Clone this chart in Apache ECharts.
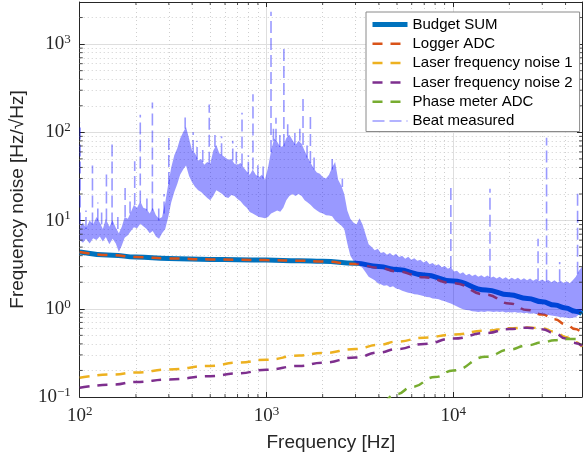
<!DOCTYPE html>
<html>
<head>
<meta charset="utf-8">
<script src="https://cdn.jsdelivr.net/npm/echarts@6/dist/echarts.min.js"></script>
<style>
  html, body { margin: 0; padding: 0; background: #fff; }
  #chart { width: 583px; height: 460px; }
</style>
</head>
<body>
<div id="chart"></div>
<script>
// axis ranges
const X_MIN = 100;
const X_MAX = 49000;
const Y_MIN = 0.1;
const Y_MAX = 3000;

// minor grid / tick positions
const minorX = [200, 300, 400, 500, 600, 700, 800, 900,
  2000, 3000, 4000, 5000, 6000, 7000, 8000, 9000,
  20000, 30000, 40000];
const minorY = [0.2, 0.3, 0.4, 0.5, 0.6, 0.7, 0.8, 0.9,
  2, 3, 4, 5, 6, 7, 8, 9,
  20, 30, 40, 50, 60, 70, 80, 90,
  200, 300, 400, 500, 600, 700, 800, 900, 2000];

// smooth budget curves
const curveFreq = [100, 150, 200, 300, 500, 700, 1000, 1500, 2000, 3000, 4000, 5000, 7000,
  10000, 15000, 20000, 25000, 30000, 35000, 40000, 45000, 49000];
const budgetSum = [4.4, 4.05, 3.85, 3.72, 3.63, 3.6, 3.56, 3.5, 3.45, 3.28, 3.02, 2.78, 2.42,
  2.06, 1.63, 1.44, 1.31, 1.2, 1.1, 1.02, 0.94, 0.88];
const loggerAdc = [4.4, 4.05, 3.85, 3.72, 3.63, 3.6, 3.56, 3.5, 3.43, 3.22, 2.92, 2.66, 2.27,
  1.95, 1.45, 1.15, 0.97, 0.86, 0.76, 0.67, 0.59, 0.53];
const laser1 = [0.165, 0.18, 0.19, 0.205, 0.225, 0.245, 0.265, 0.295, 0.315, 0.35, 0.39, 0.425, 0.47,
  0.51, 0.565, 0.6, 0.615, 0.6, 0.55, 0.48, 0.42, 0.37];
const laser2 = [0.127, 0.138, 0.148, 0.158, 0.172, 0.185, 0.204, 0.225, 0.245, 0.28, 0.32, 0.35, 0.4,
  0.46, 0.53, 0.59, 0.61, 0.585, 0.53, 0.46, 0.41, 0.38];
const phaseFreq = [3000, 4000, 5000, 6000, 8000, 10000, 15000, 20000, 25000, 30000, 35000, 40000, 45000, 49000];
const phaseAdc = [0.05, 0.083, 0.108, 0.13, 0.168, 0.2, 0.285, 0.345, 0.385, 0.415, 0.44, 0.455, 0.455, 0.445];

// measured beat: noise band, lower and upper edge [Hz/rtHz]
const beatFreq = [
  100, 104, 108, 113, 118, 123, 128, 133, 138, 144, 150, 156, 162, 168, 174, 181, 188, 195, 203, 211,
  219, 228, 237, 246, 256, 266, 276, 287, 298, 309, 321, 333, 345, 358, 371, 385, 400, 415, 431, 447,
  464, 482, 500, 519, 539, 559, 580, 602, 625, 649, 674, 700, 727, 755, 784, 814, 845, 877, 911, 946,
  982, 1020, 1059, 1100, 1142, 1186, 1231, 1278, 1327, 1378, 1431, 1486, 1543, 1602, 1663, 1727, 1793, 1862, 1933, 2007,
  2084, 2164, 2247, 2333, 2422, 2515, 2611, 2711, 2815, 2923, 3035, 3151, 3272, 3397, 3527, 3662, 3802, 3948, 4099, 4256,
  4419, 4588, 4764, 4946, 5135, 5332, 5536, 5748, 5968, 6196, 6433, 6680, 6935, 7201, 7477, 7763, 8060, 8369, 8690, 9022,
  9368, 9726, 10100, 10490, 10890, 11300, 11740, 12190, 12650, 13140, 13640, 14160, 14700, 15270, 15850, 16460, 17090, 17740, 18420, 19130,
  19860, 20620, 21410, 22230, 23080, 23960, 24880, 25830, 26820, 27850, 28920, 30020, 31170, 32370, 33610, 34890, 36230, 37620, 39060, 40550,
  42110, 43720, 45390, 47130, 49000
];
const beatLow = [
  6.0, 5.6, 6.2, 5.5, 6.3, 6.0, 6.6, 5.8, 6.5, 5.4, 6.2, 5.5, 4.4, 5.2, 6.4, 6.8, 7.6, 8.4, 8.2, 9.2,
  8.6, 8.0, 7.2, 7.6, 6.6, 6.2, 7.2, 8.0, 11, 16, 21, 26, 33, 38, 42, 32, 27, 24, 22, 21,
  19.5, 18, 17, 19, 22, 21, 20, 18.5, 18, 19.5, 19, 17.5, 16.5, 15, 14, 12.5, 12, 11.5, 11, 10.8,
  10.6, 11, 12, 12.5, 13, 12.6, 14, 17, 19, 20, 19, 20, 19, 17, 16, 15, 13.8, 13, 12.3, 12,
  11.5, 11.4, 11.2, 10, 9.4, 8.8, 8.0, 5.5, 4.0, 3.5, 3.25, 3.1, 2.9, 2.6, 2.3, 2.2, 2.1, 1.95, 1.9, 1.82,
  1.85, 1.75, 1.8, 1.7, 1.66, 1.6, 1.56, 1.52, 1.5, 1.46, 1.45, 1.42, 1.4, 1.36, 1.35, 1.31, 1.3, 1.28, 1.24, 1.22,
  1.18, 1.15, 1.1, 1.06, 1.02, 0.99, 0.97, 0.96, 0.94, 0.93, 0.92, 0.93, 0.92, 0.94, 0.93, 0.92, 0.93, 0.92, 0.93, 0.91,
  0.92, 0.91, 0.92, 0.9, 0.91, 0.89, 0.9, 0.88, 0.89, 0.87, 0.88, 0.86, 0.86, 0.85, 0.84, 0.83, 0.82, 0.8, 0.8, 0.79,
  0.78, 0.79, 0.8, 0.86, 0.95
];
const beatHigh = [
  8.5, 9.5, 8.2, 10, 9, 11, 9.5, 8, 10.5, 8.5, 10, 8.3, 7.2, 8.5, 11, 10.5, 12.5, 15, 14, 16.5,
  14, 13.5, 12, 14, 11.5, 10.5, 11, 16, 26, 40, 55, 66, 85, 100, 115, 85, 62, 58, 48, 50,
  43, 46, 44, 62, 72, 58, 55, 52, 49, 50, 44, 43, 45, 40, 36, 33, 38, 33, 31, 33,
  29, 40, 62, 85, 78, 68, 70, 86, 94, 82, 72, 80, 74, 62, 52, 45, 39, 35, 34, 31,
  30, 33, 40, 46, 29, 25, 20, 13, 10.5, 9.5, 9, 10.6, 9, 7, 5.4, 5.0, 4.6, 4.8, 4.3, 4.4,
  4.1, 4.3, 4.0, 4.2, 3.85, 4.0, 3.7, 3.9, 3.6, 3.75, 3.5, 3.6, 3.35, 3.5, 3.2, 3.3, 3.1, 3.2, 2.95, 3.05,
  2.85, 2.95, 2.65, 2.7, 2.5, 2.6, 2.4, 2.5, 2.35, 2.45, 2.3, 2.4, 2.28, 2.38, 2.25, 2.32, 2.2, 2.3, 2.18, 2.28,
  2.15, 2.25, 2.14, 2.24, 2.12, 2.22, 2.1, 2.2, 2.08, 2.18, 2.06, 2.15, 2.04, 2.12, 2.0, 2.1, 1.98, 2.08, 1.96, 2.05,
  1.95, 2.1, 2.3, 2.7, 3.0
];
// measured beat: narrow lines [Hz, foot, peak]
const beatLines = [
  [100.5, 9, 130], [108, 8, 13], [117, 9, 42], [125, 10, 16], [131, 9, 14], [139, 10, 35],
  [149, 9, 82], [160, 8, 12], [175, 11, 24], [186, 12, 19], [197, 15, 47], [211, 16, 158],
  [229, 13, 20], [245, 13, 218], [265, 10, 15], [283, 12, 20], [300, 26, 87], [367, 110, 147],
  [405, 60, 100], [425, 50, 80], [456, 46, 70], [494, 44, 207], [530, 68, 95], [575, 55, 90],
  [660, 48, 80], [690, 44, 70], [740, 42, 167], [800, 34, 55], [847, 38, 270], [900, 31, 45],
  [960, 30, 45], [1058, 60, 2320], [1090, 80, 120], [1125, 80, 146], [1180, 68, 100], [1240, 70, 880],
  [1300, 90, 130], [1420, 72, 110], [1510, 80, 120], [1570, 72, 260], [1650, 52, 80], [1720, 45, 167],
  [1800, 38, 55], [2250, 38, 50], [2550, 24, 30], [9720, 2.9, 25], [15750, 2.25, 23], [28500, 2.1, 6.2],
  [31650, 2.04, 87], [37200, 2.05, 3.4], [46400, 2.5, 21]
];

const AXIS_COLOR = '#262626';
const BEAT_COLOR = 'rgba(0,0,255,0.4)';
const SERIF = '"Liberation Serif", "DejaVu Serif", serif';
const SANS = '"Liberation Sans", Arial, sans-serif';

const zip = (xs, ys) => xs.map((x, i) => [x, ys[i]]);

const powLabel = (value) => {
  const e = Math.round(Math.log10(value));
  return '{b|10}{s|' + String(e).replace('-', '\u2212') + '}';
};
const labelRich = {
  b: { fontFamily: SERIF, fontSize: 19, color: AXIS_COLOR },
  s: { fontFamily: SERIF, fontSize: 13, color: AXIS_COLOR, padding: [0, 0, 9, 0] }
};

const baseAxis = {
  type: 'log',
  logBase: 10,
  interval: 1,
  axisLine: { show: true, lineStyle: { color: AXIS_COLOR, width: 1 } },
  axisTick: { show: true, inside: true, length: 5, lineStyle: { color: AXIS_COLOR } }
};

const tickSeries = (data, size, offset) => ({
  type: 'scatter',
  data: data,
  symbol: 'rect',
  symbolSize: size,
  symbolOffset: offset,
  itemStyle: { color: AXIS_COLOR },
  silent: true,
  clip: false,
  z: 6
});

const curve = (name, data, color, width, dash) => ({
  name: name,
  type: 'line',
  data: data,
  symbol: 'none',
  smooth: true,
  smoothMonotone: 'x',
  lineStyle: { color: color, width: width, type: dash || 'solid' },
  itemStyle: { color: color },
  z: 3
});

// vertical line pieces, broken with '-' between them
const beatLineData = [];
beatLines.forEach(([f, foot, peak]) => {
  beatLineData.push([f, foot], [f, peak], [f, '-']);
});

// whole band as one polygon (one shape, so the alpha does not pile up)
const renderBand = (params, api) => {
  if (params.dataIndex !== 0) {
    return null;
  }
  const upper = beatFreq.map((f, i) => api.coord([f, beatHigh[i]]));
  const lower = beatFreq.map((f, i) => api.coord([f, beatLow[i]])).reverse();
  return {
    type: 'polygon',
    shape: { points: upper.concat(lower) },
    style: { fill: BEAT_COLOR, stroke: null }
  };
};

const chart = echarts.init(document.getElementById('chart'));

chart.setOption({
  animation: false,
  backgroundColor: '#fff',
  grid: { left: 78, right: 1, top: 2, bottom: 63 },
  legend: {
    data: ['Budget SUM', 'Logger ADC', 'Laser frequency noise 1', 'Laser frequency noise 2',
      'Phase meter ADC', 'Beat measured'],
    orient: 'vertical',
    left: 366,
    top: 12,
    z: 10,
    padding: [5, 7, 3, 4],
    itemGap: 4.3,
    itemWidth: 35,
    itemHeight: 14,
    itemStyle: { opacity: 0 },
    lineStyle: { width: 'inherit' },
    backgroundColor: '#fff',
    borderColor: '#8a8a8a',
    borderWidth: 1,
    borderRadius: 0,
    textStyle: { fontFamily: SANS, fontSize: 15, color: '#000' }
  },
  xAxis: [
    Object.assign({}, baseAxis, {
      min: X_MIN,
      max: X_MAX,
      name: 'Frequency [Hz]',
      nameLocation: 'middle',
      nameGap: 36,
      nameTextStyle: { fontFamily: SANS, fontSize: 19, color: AXIS_COLOR, verticalAlign: 'top' },
      axisLabel: { formatter: powLabel, rich: labelRich, margin: 8, showMaxLabel: false },
      splitLine: { show: true, lineStyle: { color: '#dedede', width: 1 } }
    }),
    Object.assign({}, baseAxis, {
      min: X_MIN,
      max: X_MAX,
      position: 'top',
      axisLabel: { show: false },
      splitLine: { show: false }
    })
  ],
  yAxis: [
    Object.assign({}, baseAxis, {
      min: Y_MIN,
      max: Y_MAX,
      name: 'Frequency noise [Hz/\u221AHz]',
      nameLocation: 'middle',
      nameGap: 52,
      nameTextStyle: { fontFamily: SANS, fontSize: 19, color: AXIS_COLOR },
      axisLabel: { formatter: powLabel, rich: labelRich, margin: 9, showMaxLabel: false },
      splitLine: { show: true, lineStyle: { color: '#dedede', width: 1 } }
    }),
    Object.assign({}, baseAxis, {
      min: Y_MIN,
      max: Y_MAX,
      position: 'right',
      axisLabel: { show: false },
      splitLine: { show: false }
    })
  ],
  series: [
    // minor grid
    {
      type: 'line',
      data: [[X_MIN, Y_MIN]],
      symbol: 'none',
      silent: true,
      z: 1,
      markLine: {
        silent: true,
        z: 1,
        symbol: ['none', 'none'],
        label: { show: false },
        lineStyle: { color: '#cfcfcf', width: 1, type: [1, 3] },
        emphasis: { disabled: true },
        data: minorX.map(v => ({ xAxis: v })).concat(minorY.map(v => ({ yAxis: v })))
      }
    },
    curve('Budget SUM', zip(curveFreq, budgetSum), '#0072BD', 5),
    curve('Logger ADC', zip(curveFreq, loggerAdc), '#D95319', 2.5, [10, 8]),
    curve('Laser frequency noise 1', zip(curveFreq, laser1), '#EDB120', 2.5, [10, 8]),
    curve('Laser frequency noise 2', zip(curveFreq, laser2), '#7E2F8E', 2.5, [10, 8]),
    curve('Phase meter ADC', zip(phaseFreq, phaseAdc), '#77AC30', 2.5, [10, 8]),
    {
      name: 'Beat measured',
      type: 'line',
      data: beatLineData,
      symbol: 'none',
      connectNulls: false,
      lineStyle: { color: BEAT_COLOR, width: 1.6, type: [12, 5] },
      itemStyle: { color: BEAT_COLOR },
      z: 5
    },
    {
      name: 'beatBand',
      type: 'custom',
      data: beatFreq.map((f, i) => [f, beatLow[i], beatHigh[i]]),
      encode: { x: 0, y: [1, 2] },
      renderItem: renderBand,
      silent: true,
      z: 5
    },
    // minor ticks on all four sides
    tickSeries(minorX.map(f => [f, Y_MIN]), [1, 3], [0, -1.5]),
    tickSeries(minorX.map(f => [f, Y_MAX]), [1, 3], [0, 1.5]),
    tickSeries(minorY.map(v => [X_MIN, v]), [3, 1], [1.5, 0]),
    tickSeries(minorY.map(v => [X_MAX, v]), [3, 1], [-1.5, 0])
  ]
});
</script>
</body>
</html>
